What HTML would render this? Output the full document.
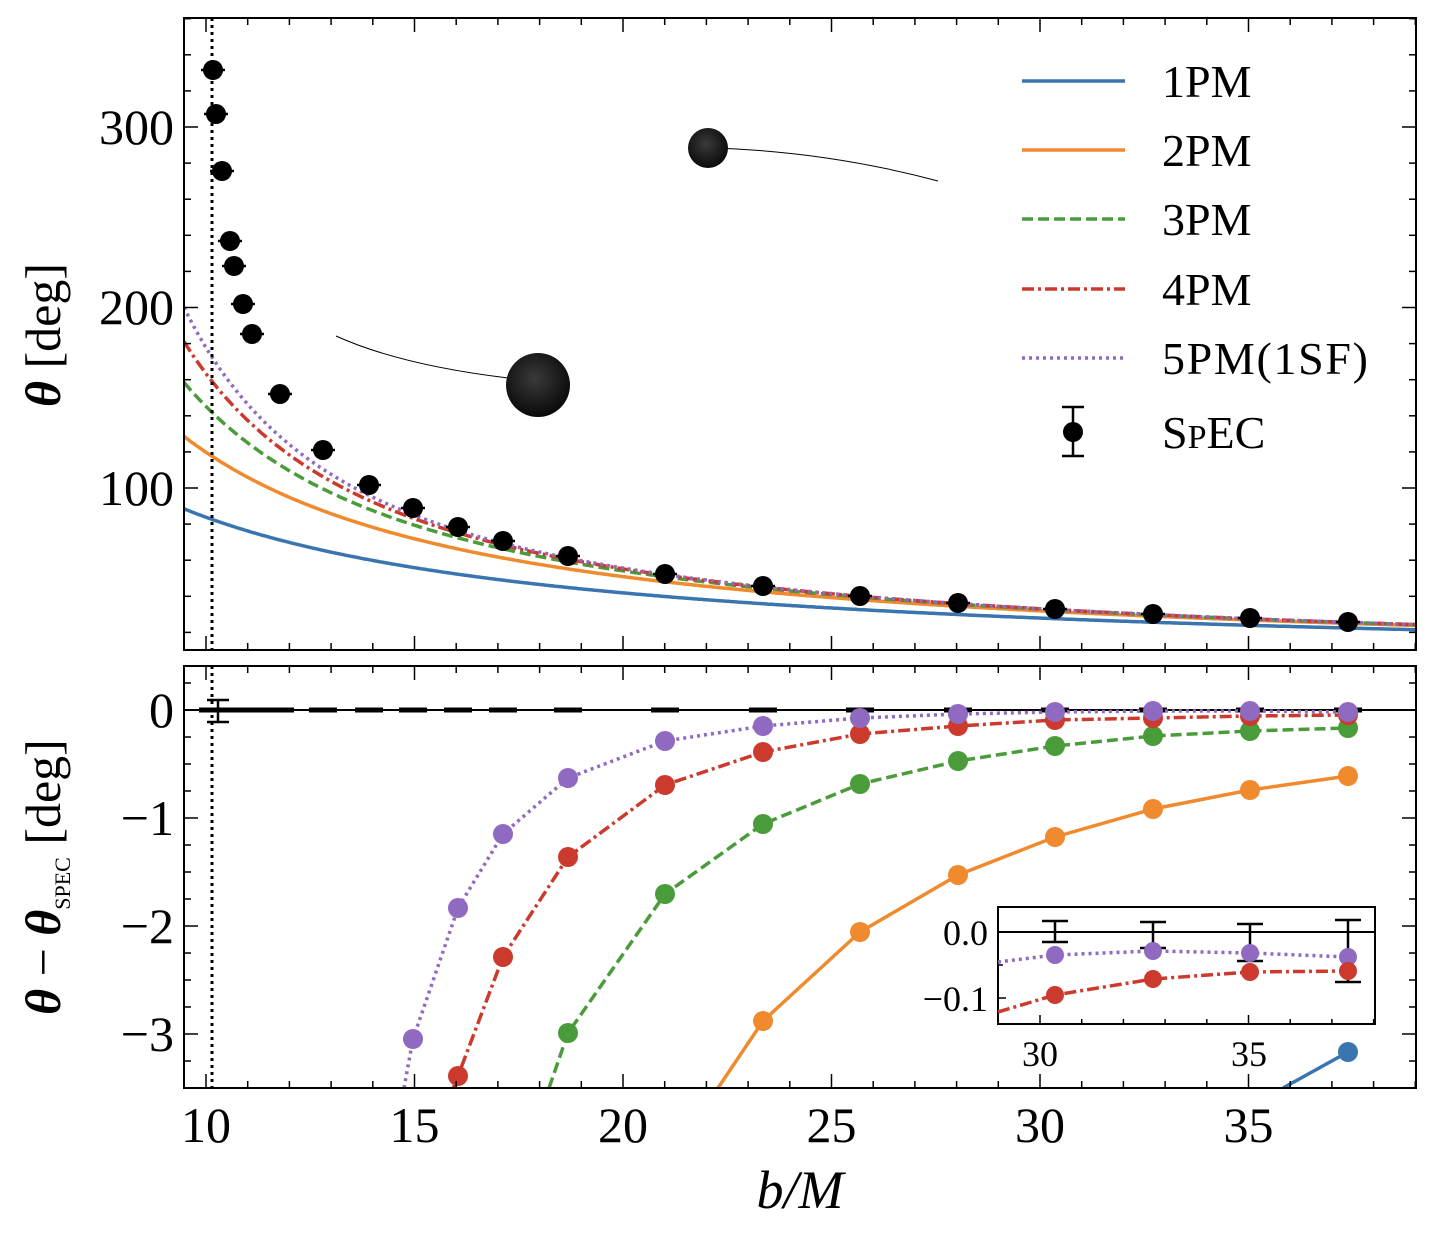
<!DOCTYPE html><html><head><meta charset="utf-8"><style>body{margin:0;background:#fff}svg{display:block}text{font-family:"Liberation Serif","DejaVu Serif",serif}</style></head><body>
<svg id="s" width="1430" height="1240" xmlns="http://www.w3.org/2000/svg">
<rect width="1430" height="1240" fill="#fff"/>
<g id="g"></g>
<g font-size="46" fill="#000">
<line x1="1022" y1="81" x2="1125" y2="81" stroke="#3a75b0" stroke-width="3.5"/><text x="1162" y="97">1PM</text>
<line x1="1022" y1="150" x2="1125" y2="150" stroke="#f08a2e" stroke-width="3.5"/><text x="1162" y="166">2PM</text>
<line x1="1022" y1="219" x2="1125" y2="219" stroke="#4a9c3a" stroke-width="3.5" stroke-dasharray="11,5"/><text x="1162" y="235">3PM</text>
<line x1="1022" y1="289" x2="1125" y2="289" stroke="#cc3a2e" stroke-width="3.5" stroke-dasharray="12,4,3,4"/><text x="1162" y="305">4PM</text>
<line x1="1022" y1="358" x2="1125" y2="358" stroke="#9069c0" stroke-width="3.5" stroke-dasharray="3,4"/><text x="1162" y="374" textLength="206">5PM(1SF)</text>
<line x1="1073" y1="407" x2="1073" y2="456" stroke="#000" stroke-width="2.5"/><line x1="1062" y1="407" x2="1084" y2="407" stroke="#000" stroke-width="2.5"/><line x1="1062" y1="456" x2="1084" y2="456" stroke="#000" stroke-width="2.5"/><circle cx="1073" cy="432" r="10"/><text x="1162" y="448">S<tspan font-size="34">P</tspan>EC</text>
</g>
<defs><radialGradient id="bh" cx="0.45" cy="0.4" r="0.6"><stop offset="0" stop-color="#3a3a3a"/><stop offset="1" stop-color="#0a0a0a"/></radialGradient></defs>
<path d="M715,148 Q830,152 938,181" fill="none" stroke="#000" stroke-width="1"/>
<circle cx="708" cy="148" r="20" fill="url(#bh)"/>
<path d="M336,336 Q400,365 508,378" fill="none" stroke="#000" stroke-width="1"/>
<circle cx="538" cy="385" r="32" fill="url(#bh)"/>
<text x="800" y="1208" font-size="54" font-style="italic" text-anchor="middle">b/M</text>
<text transform="translate(60,335) rotate(-90)" font-size="50" text-anchor="middle"><tspan font-style="italic" font-weight="bold">θ</tspan> [deg]</text>
<text transform="translate(60,877) rotate(-90)" font-size="50" text-anchor="middle"><tspan font-style="italic" font-weight="bold">θ</tspan> − <tspan font-style="italic" font-weight="bold">θ</tspan><tspan font-size="22" dy="10">SPEC</tspan><tspan dy="-10"> [deg]</tspan></text>
</svg>
<script>
var g=document.getElementById('g'),h='';
function X(b){return 206+(b-10)*41.7}
function YT(t){return 488-(t-100)*1.805}
function YB(d){return 710-d*108}
function ln(a,b,c,d,w,col,extra){h+='<line x1="'+a+'" y1="'+b+'" x2="'+c+'" y2="'+d+'" stroke="'+(col||'#000')+'" stroke-width="'+(w||1.5)+'" '+(extra||'')+'/>';}
function tx(x,y,s,fs,anc){h+='<text x="'+x+'" y="'+y+'" font-size="'+fs+'" text-anchor="'+(anc||'middle')+'">'+s+'</text>';}
var C=[['#3a75b0',''],['#f08a2e',''],['#4a9c3a','stroke-dasharray="11,5"'],['#cc3a2e','stroke-dasharray="12,4,3,4"'],['#9069c0','stroke-dasharray="3,4"']];
var co=[838,3600,25400,182000,1.44e6];
h+='<clipPath id="ct"><rect x="184" y="18" width="1232" height="632"/></clipPath><clipPath id="cb"><rect x="184" y="666" width="1232" height="422"/></clipPath>';
h+='<g clip-path="url(#ct)">';
for(var k=0;k<5;k++){var p='';for(var b=9.47;b<=39.05;b+=0.05){var t=0;for(var j=0;j<=k;j++)t+=co[j]/Math.pow(b,j+1);p+=(p?'L':'M')+X(b).toFixed(1)+','+YT(t).toFixed(1);}
h+='<path d="'+p+'" fill="none" stroke="'+C[k][0]+'" stroke-width="3.5" '+C[k][1]+'/>';}
h+='</g>';
var SP=[[213,70],[216,114],[222,171],[230,241],[234,266],[243,304],[252,334],[280,394],[323,450],[369,485],[413,508],[458,527],[503,541],[568,556],[665,574],[763,586],[860,596],[958,603],[1055,609],[1153,614],[1250,618],[1348,622]];
SP.forEach(function(q){ln(q[0]-12,q[1],q[0]+12,q[1],2.5);h+='<circle cx="'+q[0]+'" cy="'+q[1]+'" r="10"/>';});
ln(212,18,212,650,3,'#000','stroke-dasharray="3,4"');
h+='<g clip-path="url(#cb)">';
ln(184,710,1416,710,2);
SP.forEach(function(q,i){ln(q[0]-14,710,q[0]+14,710,5);});
ln(218,700,218,722,2.5);ln(207,700,229,700,2.5);ln(207,722,229,722,2.5);
var S=[['#3a75b0','',[[1283,1088],[1348,1052]]],
['#f08a2e','',[[718,1088],[763,1021],[860,932],[958,875],[1055,837],[1153,809],[1250,790],[1348,776]]],
['#4a9c3a','stroke-dasharray="11,5"',[[549,1088],[568,1033],[665,894],[763,824],[860,784],[958,761],[1055,746],[1153,736],[1250,731],[1348,728]]],
['#cc3a2e','stroke-dasharray="12,4,3,4"',[[445,1110],[458,1076],[503,957],[568,857],[665,785],[763,752],[860,734],[958,726],[1055,720],[1153,718],[1250,716],[1348,715]]],
['#9069c0','stroke-dasharray="3,4"',[[404,1088],[413,1039],[458,908],[503,834],[568,778],[665,741],[763,726],[860,718],[958,714],[1055,712],[1153,711],[1250,711],[1348,712]]]];
S.forEach(function(s){var p='';s[2].forEach(function(q){p+=(p?'L':'M')+q[0]+','+q[1];});h+='<path d="'+p+'" fill="none" stroke="'+s[0]+'" stroke-width="3.5" '+s[1]+'/>';s[2].forEach(function(q,i){if(i>0)h+='<circle cx="'+q[0]+'" cy="'+q[1]+'" r="10" fill="'+s[0]+'"/>';});});
h+='</g>';
ln(212,666,212,1088,3,'#000','stroke-dasharray="3,4"');
[[18,650],[666,1088]].forEach(function(r,pi){
h+='<rect x="184" y="'+r[0]+'" width="1232" height="'+(r[1]-r[0])+'" fill="none" stroke="#000" stroke-width="2"/>';
for(var b=10;b<=39;b++){var x=X(b),L=(b%5==0)?14:7;ln(x,r[0],x,r[0]+L);ln(x,r[1],x,r[1]-L);}
});
for(var t=20;t<=360;t+=20){var y=YT(t);if(y<18||y>650)continue;var L=(t%100==0)?14:7;ln(184,y,184+L,y);ln(1416,y,1416-L,y);}
for(var d=0.25;d>=-3.5;d-=0.25){var y=YB(d);if(y<666||y>1088)continue;var L=(Math.abs(d%1)<1e-6)?14:7;ln(184,y,184+L,y);ln(1416,y,1416-L,y);}
tx(174,144,'300',50,'end');tx(174,324,'200',50,'end');tx(174,505,'100',50,'end');
tx(174,727,'0',50,'end');tx(174,835,'−1',50,'end');tx(174,943,'−2',50,'end');tx(174,1051,'−3',50,'end');
[10,15,20,25,30,35].forEach(function(b){tx(X(b),1142,b,50);});
h+='<rect x="998" y="907" width="377" height="117" fill="#fff" stroke="#000" stroke-width="2"/>';
h+='<clipPath id="ci"><rect x="998" y="907" width="377" height="117"/></clipPath><g clip-path="url(#ci)">';
ln(998,932,1375,932,2);
[[1055,921,942],[1153,922,948],[1250,924,961],[1348,920,982]].forEach(function(e){ln(e[0],e[1],e[0],e[2],2.5);ln(e[0]-13,e[1],e[0]+13,e[1],2.5);ln(e[0]-13,e[2],e[0]+13,e[2],2.5);});
var P=[[998,962],[1055,955],[1153,951],[1250,953],[1348,957]],R=[[998,1012],[1055,995],[1153,979],[1250,972],[1348,971]];
[[P,'#9069c0','stroke-dasharray="3,4"'],[R,'#cc3a2e','stroke-dasharray="12,4,3,4"']].forEach(function(s){var p='';s[0].forEach(function(q){p+=(p?'L':'M')+q[0]+','+q[1];});h+='<path d="'+p+'" fill="none" stroke="'+s[1]+'" stroke-width="3.5" '+s[2]+'/>';s[0].forEach(function(q,i){if(i>0)h+='<circle cx="'+q[0]+'" cy="'+q[1]+'" r="9" fill="'+s[1]+'"/>';});});
h+='</g>';
for(var b=29;b<=38;b++){var x=X(b);ln(x,1024,x,1024-((b%5==0)?9:5));}
ln(998,932,1006,932);ln(998,998,1006,998);ln(998,965,1003,965);
tx(988,945,'0.0',36,'end');tx(988,1011,'−0.1',36,'end');
tx(1040,1066,'30',36);tx(1249,1066,'35',36);
g.innerHTML=h;
</script>
</body></html>
